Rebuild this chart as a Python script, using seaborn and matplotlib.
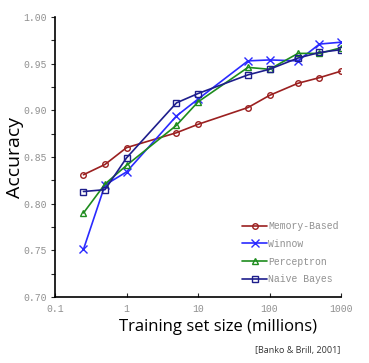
import numpy as np
import pandas as pd
import matplotlib
matplotlib.use("Agg")
import matplotlib.pyplot as plt
import seaborn as sns

sizes = [0.25, 0.5, 1, 5, 10, 50, 100, 250, 500, 1000]
memory_based = [0.831, 0.842, 0.860, 0.876, 0.885, 0.903, 0.916, 0.929, 0.935, 0.942]
winnow = [0.751, 0.820, 0.834, 0.894, 0.912, 0.953, 0.954, 0.953, 0.971, 0.973]
perceptron = [0.790, 0.821, 0.841, 0.884, 0.909, 0.946, 0.944, 0.961, 0.961, 0.967]
naive_bayes = [0.813, 0.815, 0.849, 0.908, 0.918, 0.938, 0.944, 0.956, 0.962, 0.965]
series_names = ["Memory-Based", "Winnow", "Perceptron", "Naive Bayes"]
x_ticks = [0.1, 1, 10, 100, 1000]
x_tick_labels = ["0.1", "1", "10", "100", "1000"]
y_ticks = [0.70, 0.75, 0.80, 0.85, 0.90, 0.95, 1.00]

series_vals = [memory_based, winnow, perceptron, naive_bayes]

sns.set_style("white")
fig = plt.figure(figsize=(3.69, 3.63), dpi=100)
ax = fig.add_axes([55/369, 1-297/363, (341-55)/369, (297-17)/363])

colors = ["#9B2020", "#2A2AFF", "#1E8C1E", "#1E1E8C"]
markers = ["o", "x", "^", "s"]
for name, vals, c, m in zip(series_names, series_vals, colors, markers):
    d = pd.DataFrame({"size": sizes, "acc": vals})
    sns.lineplot(data=d, x="size", y="acc", ax=ax, color=c, marker=m,
                 linewidth=1.2, markersize=4 if m != "x" else 5.5,
                 markerfacecolor="none", markeredgecolor=c,
                 markeredgewidth=1.0, label=name)

ax.set_xscale("log")
ax.set_xlim(0.1, 1000)
ax.set_ylim(0.70, 1.00)
ax.set_xticks(x_ticks)
ax.set_xticklabels(x_tick_labels)
ax.xaxis.set_minor_locator(matplotlib.ticker.NullLocator())
ax.set_yticks(y_ticks)
ax.set_yticklabels([f"{t:.2f}" for t in y_ticks])
ax.set_yticks(np.arange(0.725, 1.0, 0.05), minor=True)
for sp in ["top", "right"]:
    ax.spines[sp].set_visible(False)
for sp in ["left", "bottom"]:
    ax.spines[sp].set_color("black")
    ax.spines[sp].set_linewidth(1.2)
mono = ["Liberation Mono", "DejaVu Sans Mono"]
ax.tick_params(axis="y", which="both", direction="out", length=3, width=0.8,
               labelsize=7, labelcolor="#909090", pad=3, left=True)
ax.tick_params(axis="x", which="both", direction="in", length=3, width=0.8,
               labelsize=7, labelcolor="#909090", pad=5, bottom=True)
for lbl in ax.get_xticklabels() + ax.get_yticklabels():
    lbl.set_family(mono)

ax.set_xlabel("Training set size (millions)", fontsize=12, family=["Open Sans"],
              color="black")
ax.xaxis.set_label_coords((218 - 55) / 286, -(327 - 297) / 280, transform=ax.transAxes)
ax.xaxis.label.set_va("center")
ax.set_ylabel("Accuracy", fontsize=14, family=["Open Sans"], color="black")
ax.yaxis.set_label_coords((14.5 - 55) / 286, (297 - 158) / 280, transform=ax.transAxes)
ax.yaxis.label.set_va("center")

leg = ax.legend(loc="upper left", bbox_to_anchor=(0.64, 0.285), frameon=False,
                prop={"family": mono, "size": 7}, handlelength=2.6,
                labelspacing=0.8, handletextpad=0.1, borderaxespad=0)
for t in leg.get_texts():
    t.set_color("#909090")

fig.text(340/369, 1-350/363, "[Banko & Brill, 2001]", ha="right", va="center",
         fontsize=6.5, family=["Open Sans"], color="#333333")

fig.savefig("out.png", dpi=100)
